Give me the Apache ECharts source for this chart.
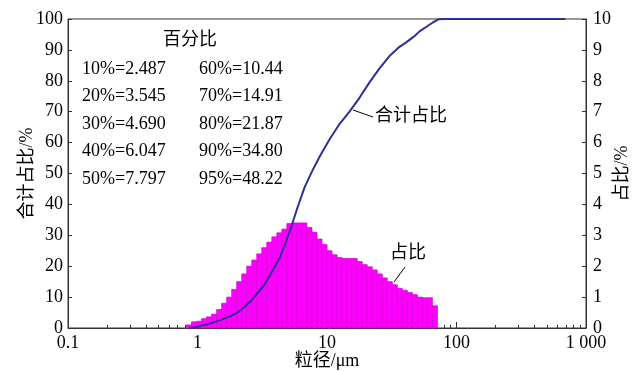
<!DOCTYPE html>
<html><head><meta charset="utf-8">
<script src="https://cdn.jsdelivr.net/npm/echarts@6.0.0/dist/echarts.min.js"></script>
<style>html,body{margin:0;padding:0;background:#fff}#c{width:633px;height:372px}</style>
</head><body><div id="c"></div>
<script>
// particle size bin edges (µm)
const binEdges = [0.822,0.899,0.983,1.075,1.175,1.285,1.405,1.536,1.680,1.836,2.007,2.195,2.399,2.624,2.869,3.136,3.429,3.749,4.100,4.482,4.900,5.358,5.857,6.404,7.001,7.656,8.372,9.152,10.01,10.94,11.96,13.08,14.30,15.64,17.10,18.69,20.44,22.34,24.43,26.71,29.20,31.93,34.91,38.16,41.73,45.63,49.89,54.54,59.64,65.20,71.29];
// 占比 per bin (%)
const binPercent = [0.10,0.20,0.22,0.30,0.36,0.45,0.60,0.80,1.00,1.25,1.50,1.75,2.00,2.20,2.40,2.60,2.78,2.95,3.08,3.20,3.38,3.40,3.40,3.40,3.25,3.10,2.88,2.70,2.50,2.37,2.28,2.25,2.25,2.25,2.15,2.05,1.98,1.88,1.75,1.62,1.50,1.40,1.28,1.22,1.15,1.08,1.00,0.98,0.98,0.72];
// 合计占比 curve
const cumSize = [0.867,1.0,1.133,1.306,1.532,1.766,2.036,2.306,2.612,2.906,3.291,3.795,4.298,4.78,5.32,5.92,6.71,7.73,8.91,10.45,12.49,14.92,17.82,21.29,25.43,30.38,36.29,41.1,46.56,51.8,58.67,65.27,72.6,80.8,695];
const cumPercent = [0,0.3,1.0,1.7,2.7,3.7,5.0,6.8,9.0,11.3,14.0,18.5,22.5,27.5,33.0,39.0,45.5,51.0,56.0,61.0,66.0,70.0,74.5,79.5,84.0,88.0,91.0,92.5,94.2,96.0,97.5,98.8,99.9,100,100];
// axes
const xTickValues = [0.1,1,10,100,1000];
const xTickLabels = ['0.1','1','10','100','1 000'];
const xMinorTicks = [0.2,0.3,0.4,0.5,0.6,0.7,0.8,0.9,2,3,4,5,6,7,8,9,20,30,40,50,60,70,80,90,200,300,400,500,600,700,800,900];
// percentile table
const tableTitle = '百分比';
const tableLeft = ['10%=2.487','20%=3.545','30%=4.690','40%=6.047','50%=7.797'];
const tableRight = ['60%=10.44','70%=14.91','80%=21.87','90%=34.80','95%=48.22'];

const FONT = '"Liberation Serif","Noto Sans CJK SC",serif';
const chart = echarts.init(document.getElementById('c'), null, {renderer:'canvas'});

const barData = binPercent.map((v,i)=>[binEdges[i], binEdges[i+1], v]);
const lineData = cumSize.map((s,i)=>[s, cumPercent[i]]);

const rowY = [70, 97.5, 125, 152.5, 180];
const graphics = [{type:'text', left:163, top:41-10, style:{text:tableTitle, font:'18px '+FONT, fill:'#000'}}];
tableLeft.forEach((t,i)=>graphics.push({type:'text', left:82, top:rowY[i]-10, style:{text:t, font:'18px '+FONT, fill:'#000'}}));
tableRight.forEach((t,i)=>graphics.push({type:'text', left:199, top:rowY[i]-10, style:{text:t, font:'18px '+FONT, fill:'#000'}}));
graphics.push({type:'text', left:375, top:117-10, style:{text:'合计占比', font:'18px '+FONT, fill:'#000'}});
graphics.push({type:'line', shape:{x1:353,y1:110,x2:373,y2:117}, style:{stroke:'#000', lineWidth:1}});
graphics.push({type:'text', left:390, top:254-10, style:{text:'占比', font:'18px '+FONT, fill:'#000'}});
graphics.push({type:'line', shape:{x1:405,y1:267,x2:394,y2:282}, style:{stroke:'#000', lineWidth:1}});

const axisLineStyle = {color:'#333', width:1};
chart.setOption({
  animation:false,
  backgroundColor:'#fff',
  grid:{left:68, right:47, top:19, bottom:44, show:true, borderColor:'#333', borderWidth:1, containLabel:false, outerBoundsMode:'none'},
  xAxis:[{
    type:'log', logBase:10, min:0.1, max:1000,
    name:'粒径/μm', nameLocation:'middle', nameGap:24, nameMoveOverlap:false,
    nameTextStyle:{fontFamily:FONT, fontSize:18, color:'#000'},
    axisLine:{show:true, lineStyle:axisLineStyle},
    axisTick:{show:true, inside:true, length:6, customValues:xTickValues, lineStyle:axisLineStyle},
    axisLabel:{show:true, margin:6, customValues:xTickValues, fontFamily:FONT, fontSize:18, color:'#000',
      formatter:(v)=>{const i=xTickValues.findIndex(t=>Math.abs(t-v)/t<1e-6); return i>=0?xTickLabels[i]:'';}},
    splitLine:{show:false}
  },{
    type:'log', logBase:10, min:0.1, max:1000, position:'bottom',
    axisLine:{show:false},
    axisTick:{show:true, inside:true, length:3, customValues:xMinorTicks, lineStyle:axisLineStyle},
    axisLabel:{show:false},
    splitLine:{show:false}
  }],
  yAxis:[{
    type:'value', min:0, max:100, interval:10, position:'left',
    name:'合计占比/%', nameLocation:'middle', nameGap:32, nameRotate:90, nameMoveOverlap:false,
    nameTextStyle:{fontFamily:FONT, fontSize:18, color:'#000'},
    axisLine:{show:true, lineStyle:axisLineStyle},
    axisTick:{show:true, inside:true, length:4, lineStyle:axisLineStyle},
    axisLabel:{margin:5, fontFamily:FONT, fontSize:18, color:'#000'},
    splitLine:{show:false}
  },{
    type:'value', min:0, max:10, interval:1, position:'right',
    name:'占比/%', nameLocation:'middle', nameGap:27, nameRotate:90, nameMoveOverlap:false,
    nameTextStyle:{fontFamily:FONT, fontSize:18, color:'#000'},
    axisLine:{show:true, lineStyle:axisLineStyle},
    axisTick:{show:true, inside:true, length:4, lineStyle:axisLineStyle},
    axisLabel:{margin:7, fontFamily:FONT, fontSize:18, color:'#000'},
    splitLine:{show:false}
  }],
  series:[{
    type:'custom', xAxisIndex:0, yAxisIndex:1, z:2,
    encode:{x:[0,1], y:2},
    data:barData,
    renderItem:function(params, api){
      const p0 = api.coord([api.value(0), api.value(2)]);
      const p1 = api.coord([api.value(1), 0]);
      return {type:'rect', shape:{x:p0[0], y:p0[1], width:p1[0]-p0[0], height:p1[1]-p0[1]},
        style:{fill:'#ff00ff', stroke:'#d400d4', lineWidth:0.7}};
    }
  },{
    type:'line', xAxisIndex:0, yAxisIndex:0, z:3,
    data:lineData, showSymbol:false, smooth:false,
    lineStyle:{color:'#2e2e96', width:2}
  }],
  graphic:graphics
});
</script>
</body></html>
